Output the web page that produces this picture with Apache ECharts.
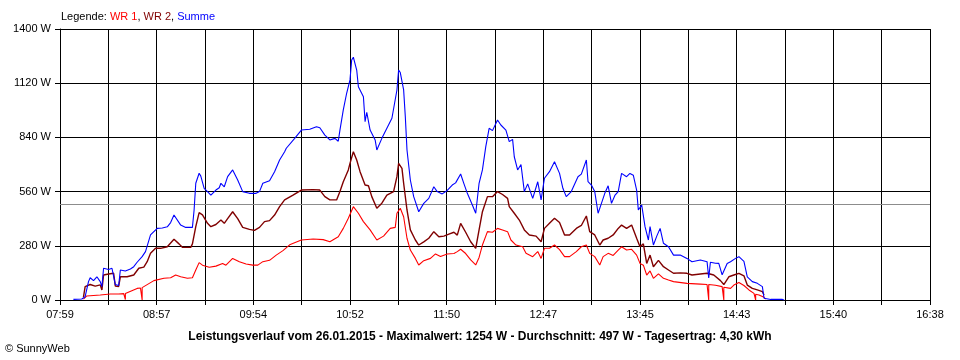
<!DOCTYPE html>
<html>
<head>
<meta charset="utf-8">
<script src="https://cdn.jsdelivr.net/npm/echarts@6/dist/echarts.min.js"></script>
<style>
html,body{margin:0;padding:0;background:#fff;}
#c{width:960px;height:360px;}
</style>
</head>
<body>
<div id="c"></div>
<script>
// x-axis tick labels (every second grid line)
const tickLabels = ['07:59','08:57','09:54','10:52','11:50','12:47','13:45','14:43','15:40','16:38'];
const axisStart = '07:59';
const axisEnd = '16:38';
const yTicks = [0, 280, 560, 840, 1120, 1400];
const average = 497;

// Summe (blue)
const sumTimes = ['08:07','08:12','08:14','08:16','08:17','08:19','08:21','08:23','08:24','08:25','08:28','08:30','08:32','08:34','08:35','08:38','08:41','08:43','08:45','08:48','08:50','08:53','08:57','09:00','09:03','09:05','09:07','09:08','09:11','09:14','09:18','09:19','09:20','09:22','09:23','09:25','09:27','09:29','09:32','09:34','09:35','09:37','09:39','09:42','09:45','09:48','09:52','09:56','09:58','10:00','10:04','10:07','10:10','10:13','10:14','10:19','10:23','10:28','10:32','10:34','10:37','10:40','10:43','10:45','10:46','10:48','10:50','10:52','10:53','10:54','10:56','10:57','10:58','11:00','11:01','11:02','11:04','11:07','11:08','11:11','11:14','11:17','11:18','11:20','11:21','11:22','11:24','11:25','11:26','11:28','11:30','11:33','11:36','11:39','11:42','11:44','11:47','11:50','11:53','11:55','11:58','12:00','12:02','12:05','12:07','12:09','12:11','12:13','12:15','12:17','12:18','12:20','12:22','12:25','12:27','12:29','12:30','12:32','12:34','12:36','12:38','12:41','12:44','12:46','12:48','12:51','12:54','12:57','12:59','13:01','13:04','13:08','13:10','13:13','13:14','13:16','13:18','13:20','13:22','13:24','13:26','13:28','13:30','13:32','13:34','13:37','13:39','13:41','13:43','13:44','13:46','13:48','13:50','13:51','13:53','13:55','13:57','13:59','14:02','14:05','14:09','14:13','14:16','14:21','14:25','14:26','14:27','14:30','14:32','14:34','14:37','14:39','14:42','14:44','14:47','14:49','14:52','14:55','14:58','14:59','15:03','15:10','15:11'];
const sumValues = [3,5,17,95,115,100,120,95,69,164,158,164,80,75,155,150,160,172,195,224,250,336,370,372,378,400,439,435,387,375,375,465,603,655,640,577,560,542,568,580,603,585,637,672,620,560,551,551,560,603,616,663,723,766,784,835,878,882,895,890,852,827,835,820,878,982,1068,1137,1240,1254,1188,1102,1110,1050,921,970,878,827,775,835,887,939,930,1085,1188,1175,1085,947,775,620,534,456,499,525,585,560,548,566,594,605,651,600,551,491,448,603,672,792,887,875,865,930,904,878,818,830,740,672,700,560,600,525,611,517,629,663,714,654,577,534,560,637,650,723,611,594,560,448,499,551,590,499,540,560,654,637,654,645,568,465,491,379,310,379,284,330,370,293,275,232,232,215,198,207,198,114,195,190,189,130,189,198,215,224,200,120,95,86,69,9,3,3,0];

// WR 2 (dark red)
const wr2Times = ['08:13','08:14','08:17','08:20','08:23','08:24','08:25','08:28','08:31','08:32','08:34','08:35','08:39','08:43','08:46','08:49','08:51','08:53','08:56','08:59','09:03','09:07','09:10','09:12','09:17','09:18','09:20','09:22','09:24','09:27','09:29','09:32','09:35','09:37','09:39','09:42','09:45','09:48','09:52','09:55','09:58','10:01','10:04','10:07','10:10','10:13','10:18','10:23','10:30','10:34','10:37','10:40','10:44','10:46','10:48','10:51','10:52','10:54','10:56','10:58','11:01','11:03','11:05','11:08','11:11','11:14','11:18','11:20','11:21','11:23','11:24','11:26','11:28','11:31','11:33','11:36','11:39','11:42','11:45','11:48','11:51','11:54','11:56','11:58','12:01','12:04','12:07','12:09','12:11','12:14','12:17','12:20','12:23','12:26','12:27','12:30','12:33','12:36','12:39','12:43','12:46','12:48','12:51','12:54','12:57','13:00','13:03','13:07','13:10','13:13','13:15','13:18','13:21','13:23','13:26','13:29','13:32','13:34','13:37','13:40','13:43','13:45','13:47','13:49','13:51','13:53','13:56','13:59','14:02','14:05','14:09','14:13','14:16','14:21','14:25','14:29','14:33','14:35','14:38','14:41','14:44','14:47','14:49','14:52','14:55','14:58','14:59'];
const wr2Values = [15,69,80,72,78,52,129,134,138,72,70,120,120,129,164,170,198,241,267,267,275,314,290,272,272,290,379,451,440,396,379,390,413,396,420,456,420,375,365,360,375,405,410,439,482,517,542,568,570,568,534,517,517,560,611,672,706,766,723,663,594,590,534,474,500,542,560,637,706,680,603,465,362,310,284,300,319,353,327,330,340,350,335,396,350,301,267,362,456,534,534,560,545,525,482,448,413,362,336,330,301,370,396,422,400,336,336,370,385,434,353,336,284,310,319,336,370,387,370,387,319,275,290,189,232,172,205,172,155,138,140,138,129,134,138,129,100,80,120,129,138,125,77,60,52,43,26];

// WR 1 (red)
const wr1Times = ['08:13','08:15','08:23','08:29','08:34','08:37','08:38','08:38','08:39','08:45','08:47','08:48','08:48','08:49','08:55','09:01','09:05','09:08','09:11','09:15','09:18','09:20','09:22','09:24','09:28','09:32','09:36','09:38','09:42','09:46','09:50','09:54','09:57','10:00','10:04','10:08','10:12','10:16','10:23','10:30','10:36','10:40','10:45','10:48','10:51','10:54','10:57','11:00','11:04','11:08','11:12','11:16','11:19','11:20','11:22','11:24','11:26','11:28','11:31','11:33','11:36','11:40','11:43','11:46','11:50','11:54','11:56','11:58','12:01','12:04','12:07','12:09','12:11','12:14','12:17','12:20','12:23','12:26','12:28','12:31','12:35','12:37','12:41','12:44','12:46','12:48','12:51','12:54','12:57','13:00','13:03','13:07','13:10','13:13','13:15','13:18','13:21','13:23','13:26','13:29','13:32','13:34','13:37','13:40','13:43','13:45','13:47','13:49','13:51','13:53','13:56','13:59','14:02','14:05','14:13','14:21','14:25','14:26','14:26','14:30','14:34','14:35','14:35','14:39','14:41','14:44','14:47','14:50','14:53','14:54','14:54','14:56','14:59','15:00'];
const wr1Values = [5,21,26,31,31,33,2,34,38,60,62,0,64,72,100,112,115,129,120,112,115,155,193,180,169,175,189,180,215,198,186,180,180,198,205,232,255,285,310,315,312,301,327,370,422,482,448,405,362,310,330,370,375,448,474,430,319,258,215,181,203,215,238,225,238,240,250,262,240,207,181,220,284,353,350,370,362,353,310,284,275,241,224,250,215,267,267,284,260,224,224,250,275,284,241,224,181,224,241,230,258,275,258,262,232,189,180,129,150,112,135,112,103,95,86,82,80,0,80,76,69,0,66,60,77,90,75,52,34,0,30,26,14,5];

const legendParts = ['Legende: ', 'WR 1', ', ', 'WR 2', ', ', 'Summe'];
const footerTitle = 'Leistungsverlauf vom 26.01.2015 - Maximalwert: 1254 W - Durchschnitt: 497 W - Tagesertrag: 4,30 kWh';
const copyright = '\u00A9 SunnyWeb';

function toMin(s){ const p = s.split(':'); return (+p[0])*60 + (+p[1]); }
const t0 = toMin(axisStart), t1 = toMin(axisEnd);
const span = (t1 - t0) * 60;           // seconds
const step = span / 18;                 // grid interval in seconds
function pts(times, vals){ return times.map((t,i)=>[(toMin(t)-t0)*60, vals[i]]); }

const FONT = 'Liberation Sans, Arial, sans-serif';
const chart = echarts.init(document.getElementById('c'), null, {renderer:'canvas'});
chart.setOption({
  animation: false,
  backgroundColor: '#fff',
  grid: {left: 60, right: 30, top: 29, bottom: 60, containLabel: false},
  xAxis: {
    type: 'value', min: 0, max: span, interval: step,
    axisLine: {show: true, lineStyle: {color: '#000', width: 1}},
    axisTick: {show: true, length: 5, lineStyle: {color: '#000'}},
    splitLine: {show: true, lineStyle: {color: '#000', width: 1}},
    axisLabel: {
      show: true, margin: 9, color: '#000', fontSize: 11, fontFamily: FONT,
      showMinLabel: true, showMaxLabel: true, hideOverlap: false,
      formatter: function(v){ const i = Math.round(v/step); return i % 2 === 0 ? (tickLabels[i/2] || '') : ''; }
    }
  },
  yAxis: {
    type: 'value', min: yTicks[0], max: yTicks[yTicks.length-1], interval: yTicks[1]-yTicks[0],
    axisLine: {show: true, lineStyle: {color: '#000', width: 1}},
    axisTick: {show: true, length: 5, lineStyle: {color: '#000'}},
    splitLine: {show: true, lineStyle: {color: '#000', width: 1}},
    axisLabel: {margin: 9, color: '#000', fontSize: 11, fontFamily: FONT, formatter: v => v + ' W'}
  },
  graphic: [
    {type:'text', left: 61, top: 11, style:{
      text: '{a|' + legendParts[0] + '}{r|' + legendParts[1] + '}{a|' + legendParts[2] + '}{d|' + legendParts[3] + '}{a|' + legendParts[4] + '}{b|' + legendParts[5] + '}',
      rich: {a:{fill:'#000',fontSize:11,fontFamily:FONT}, r:{fill:'#ff0000',fontSize:11,fontFamily:FONT}, d:{fill:'#800000',fontSize:11,fontFamily:FONT}, b:{fill:'#0000ff',fontSize:11,fontFamily:FONT}}
    }},
    {type:'text', x: 480, y: 337, style:{text: footerTitle, fill:'#000', font: 'bold 12px ' + FONT, textAlign:'center', textVerticalAlign:'middle'}},
    {type:'text', x: 5, y: 349, style:{text: copyright, fill:'#000', font: '11px ' + FONT, textAlign:'left', textVerticalAlign:'middle'}}
  ],
  series: [
    {name:'WR 1', type:'line', data: pts(wr1Times, wr1Values), showSymbol:false, symbol:'none', lineStyle:{color:'#ff0000', width:1.1}, z: 3},
    {name:'WR 2', type:'line', data: pts(wr2Times, wr2Values), showSymbol:false, symbol:'none', lineStyle:{color:'#800000', width:1.4}, z: 4},
    {name:'Summe', type:'line', data: pts(sumTimes, sumValues), showSymbol:false, symbol:'none', lineStyle:{color:'#0000ff', width:1.1}, z: 5,
      markLine: {silent:true, symbol:'none', label:{show:false}, lineStyle:{color:'#8c8c8c', type:'solid', width:1}, data:[{yAxis: average}], z: 2}}
  ]
});
</script>
</body>
</html>
